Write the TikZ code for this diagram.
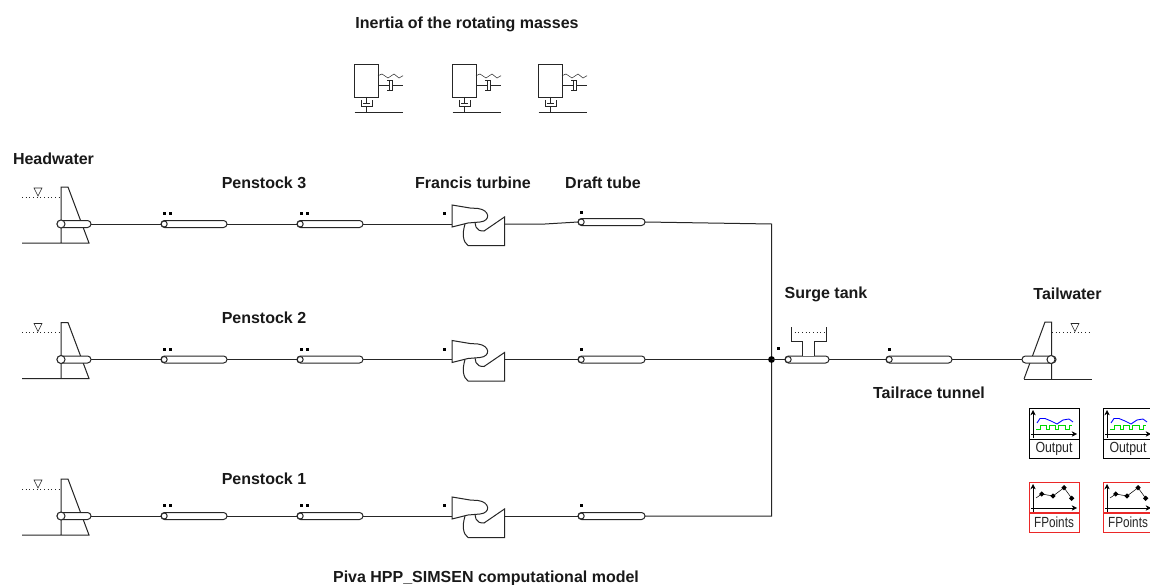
\documentclass[tikz,border=0pt]{standalone}
\usepackage{fontspec}
\setmainfont{Liberation Sans}
\usetikzlibrary{arrows.meta}
\definecolor{ln}{gray}{0.15}
\definecolor{fpred}{RGB}{235,40,40}
\newcommand{\pipe}[4]{% name, x1, x2, y
  \coordinate (#1-l) at (#2,#4);
  \coordinate (#1-r) at (#3,#4);
  \draw[comp,fill=white,rounded corners=2.6pt] (#2,#4-3.5) rectangle (#3,#4+3.5);
  \draw[comp,fill=white] (#2+3.2,#4) circle[radius=3];
}
\newcommand{\dotmark}[2]{\fill[black] (#1-1.5,#2-1.5) rectangle (#1+1.5,#2+1.5);}
\newcommand{\reservoir}[2]{% name, y of the line
  \coordinate (#1-base) at (22,#2+19);
  \draw[comp] (#1-base) -- (89,#2+19) -- (68,#2-37) -- (61,#2-37) -- (61,#2+19);
  \draw[comp,dotted] (22,#2-27) -- (61,#2-27);
  \draw[thin,ln] (34,#2-36) -- (42,#2-36) -- (38,#2-28) -- cycle;
  \coordinate (#1-r) at (91,#2);
  \draw[comp,fill=white,rounded corners=2.6pt] (57,#2-3.5) rectangle (91,#2+3.5);
  \draw[comp,fill=white] (61,#2) circle[radius=4];
}
\newcommand{\turbine}[2]{% name, y
  \begin{scope}[shift={(0,#2)}]
  \draw[comp] (452,-19) -- (470,-16) -- (478,-15.5) .. controls (490,-14) and (491,-3) .. (480,-2)
    -- (468,-1) -- (452,3) -- cycle;
  \draw[comp] (475,-1.5) -- (476,3) .. controls (477,6) and (480,7) .. (484,7) -- (504.5,-7) -- (504.5,21.5) -- (468,21.5)
    .. controls (463,18) and (462,10) .. (465,0);
  \end{scope}
}
\newcommand{\inertia}[2]{% name, x of box left
  \begin{scope}[shift={(#2,0)}]
  \node[inner sep=0pt,minimum width=18pt,minimum height=24.75pt,draw=ln,line width=0.7pt] (#1) at (12,80.5) {};
  \draw[comp] (0.5,113) -- (49,113);
  \draw[comp] (12,97) -- (12,104) (12,107) -- (12,113);
  \draw[comp] (7,100) -- (7,107) -- (18,107) -- (18,100);
  \draw[comp] (9,104) -- (16,104);
  \draw[comp] (24,86) -- (35,86) (35,81) -- (35,91);
  \draw[comp] (33,81) -- (38,81) -- (38,91) -- (33,91) (38,86) -- (49,86);
  \draw[thin,ln] (24,75.7) -- (28,74) -- (34,78) -- (40,74) -- (45,78) -- (49,75.7);
  \end{scope}
}
\newcommand{\graphaxes}{%
  \draw[thin,black,-{Stealth[length=4pt,width=4pt]}] (4,30) -- (4,2);
  \draw[thin,black,-{Stealth[length=4pt,width=4pt]}] (2,26) -- (48,26);
}
\newcommand{\outputbox}[3]{% name, x, y
  \begin{scope}[shift={(#2,#3)}]
  \node[boxbase,draw=black] (#1) at (25,25) {};
  \draw[line width=0.7pt,black] (0,31) -- (50,31);
  \node[smalltext] (#1-t) at (25,40.5) {\scalebox{0.84}[1]{Output}};
  \graphaxes
  \draw[line width=0.65pt,blue] (8,15) -- (11,10.5) -- (16,10.5) -- (22,13) -- (28,16) -- (34,12) -- (40,11) -- (44,14);
  \draw[line width=0.65pt,green!85!black] (7,21) -- (11,21) -- (11,17) -- (17,17) -- (17,21) -- (20,21) -- (20,17) -- (26,17) -- (26,21) -- (29,21) -- (29,17) -- (36,17) -- (36,21) -- (40,21) -- (40,17) -- (43,17);
  \end{scope}
}
\newcommand{\fpointsbox}[3]{%
  \begin{scope}[shift={(#2,#3)}]
  \node[boxbase,draw=fpred] (#1) at (25,25) {};
  \draw[line width=0.8pt,fpred] (0,31) -- (50,31);
  \node[smalltext] (#1-t) at (25,40.5) {\scalebox{0.8}[1]{FPoints}};
  \graphaxes
  \draw[thin,black] (7,16) -- (12.7,12) -- (24,14) -- (35,5.7) -- (42.7,16.3);
  \foreach \a/\b in {12.7/12,24/14,35/5.7,42.7/16.3}{\fill[black] (\a,\b-2.7) -- (\a+2.7,\b) -- (\a,\b+2.7) -- (\a-2.7,\b) -- cycle;}
  \end{scope}
}
\tikzset{
  comp/.style={draw=ln,line width=0.75pt},
  conn/.style={draw=ln,line width=0.75pt},
  lbl/.style={font=\bfseries\fontsize{12}{14}\selectfont,text=black!90,inner sep=0pt,anchor=base},
  smalltext/.style={font=\fontsize{11}{12}\selectfont,inner sep=0pt,text=black!85},
  boxbase/.style={minimum width=37.5pt,minimum height=37.5pt,inner sep=0pt,fill=white,line width=0.75pt,rectangle}
}
\begin{document}
\begin{tikzpicture}[x=0.75pt,y=-0.75pt]
\useasboundingbox (0,0) rectangle (1150,585);
\clip (0,0) rectangle (1150,585);
\fill[white] (0,0) rectangle (1150,585);
% connectors first
\foreach \n/\y in {c/224,b/359.5,a/516}{
  \coordinate (h\n) at (91,\y);
  \coordinate (p\n1l) at (161,\y); \coordinate (p\n1r) at (227,\y);
  \coordinate (p\n2l) at (297,\y); \coordinate (p\n2r) at (363,\y);
  \coordinate (t\n l) at (452,\y); \coordinate (t\n r) at (505,\y);
  \draw[conn] (h\n) -- (p\n1l) (p\n1r) -- (p\n2l) (p\n2r) -- (t\n l);
}
\coordinate (dcl) at (578,222); \coordinate (dcr) at (645,222);
\coordinate (dbl) at (578,359.5); \coordinate (dbr) at (645,359.5);
\coordinate (dal) at (578,516); \coordinate (dar) at (645,516);
\coordinate (bustop) at (771.5,224); \coordinate (busj) at (771.5,359.5); \coordinate (busbot) at (771.5,516);
\coordinate (mid) at (545,224);
\draw[conn] (tcr) -- (mid) -- (dcl);
\draw[conn] (dcr) -- (bustop) -- (busbot) -- (dar);
\draw[conn] (tbr) -- (dbl) (dbr) -- (busj);
\draw[conn] (tar) -- (dal);
\fill[black] (busj) circle[radius=3.4];
\coordinate (sl) at (785,359.5); \coordinate (sr) at (829,359.5);
\coordinate (tl) at (886,359.5); \coordinate (tr) at (952,359.5);
\coordinate (twl) at (1022,359.5);
\draw[conn] (busj) -- (sl) (sr) -- (tl) (tr) -- (twl);
% components
\reservoir{hwc}{224}
\reservoir{hwb}{359.5}
\reservoir{hwa}{516}
\foreach \y in {224,359.5,516}{
  \pipe{x}{161}{227}{\y}
  \pipe{x}{297}{363}{\y}
  \dotmark{164.5}{\y-10.5}\dotmark{170.5}{\y-10.5}
  \dotmark{301}{\y-10.5}\dotmark{307}{\y-10.5}
  \dotmark{444}{\y-10.5}
}
\turbine{tc}{224}\turbine{tb}{359.5}\turbine{ta}{516}
\pipe{dc}{578}{645}{222}
\pipe{db}{578}{645}{359.5}
\pipe{da}{578}{645}{516}
\dotmark{581}{212.5}\dotmark{581}{349}\dotmark{581}{505.5}
\dotmark{778}{348}
% surge tank
\pipe{st}{785}{829}{359.5}
\fill[white] (802.5,350) rectangle (813.5,355.7);
\draw[comp] (791,327) -- (791,341) -- (802,341) -- (802,356);
\draw[comp] (826,327) -- (826,341) -- (814,341) -- (814,356);
\draw[comp,dotted] (791,332) -- (826,332);
% tailrace
\pipe{tt}{886}{952}{359.5}
\dotmark{889}{349}
% tailwater
\draw[comp] (1024,379) -- (1092,379);
\draw[comp] (1051.7,379) -- (1051.7,322) -- (1045,322) -- (1024,379);
\draw[comp,dotted] (1052,332) -- (1091,332);
\draw[thin,ln] (1071,323.5) -- (1079,323.5) -- (1075,331.5) -- cycle;
\draw[comp,fill=white,rounded corners=2.6pt] (1022,356) rectangle (1056,363);
\draw[comp,fill=white] (1051,359.5) circle[radius=4];
% inertia
\inertia{ia}{354}\inertia{ib}{452}\inertia{ic}{538}
% output
\outputbox{oa}{1029}{408}\outputbox{ob}{1103}{408}
\fpointsbox{fa}{1029}{482}\fpointsbox{fb}{1103}{482}
% labels
\node[lbl] (l1) at (467,29) {Inertia of the rotating masses};
\node[lbl] (l2) at (53.5,164) {Headwater};
\node[lbl] (l3) at (264,188) {Penstock 3};
\node[lbl] (l4) at (473,188.5) {Francis turbine};
\node[lbl] (l5) at (603,188.5) {Draft tube};
\node[lbl] (l6) at (264,323) {Penstock 2};
\node[lbl] (l7) at (264,484) {Penstock 1};
\node[lbl] (l8) at (826,298.5) {Surge tank};
\node[lbl] (l9) at (1067.5,299) {Tailwater};
\node[lbl] (l10) at (929,398) {Tailrace tunnel};
\node[lbl] (l11) at (486,582) {Piva HPP\_SIMSEN computational model};
\end{tikzpicture}
\end{document}
